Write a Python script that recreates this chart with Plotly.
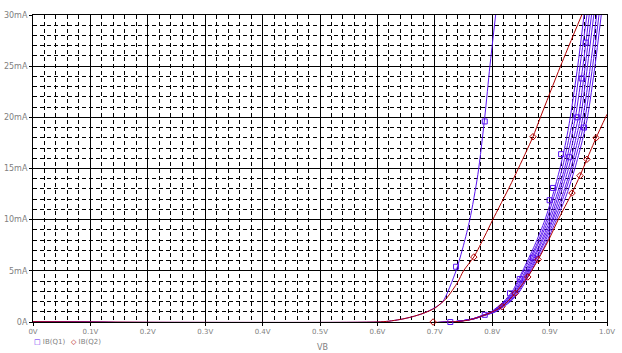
import plotly.graph_objects as go

# ---------------- data ----------------
x_tick_vals = [0.0, 0.1, 0.2, 0.3, 0.4, 0.5, 0.6, 0.7, 0.8, 0.9, 1.0]
x_tick_text = ["0V", "0.1V", "0.2V", "0.3V", "0.4V", "0.5V", "0.6V", "0.7V", "0.8V", "0.9V", "1.0V"]
y_tick_vals = [0, 5, 10, 15, 20, 25, 30]
y_tick_text = ["0A", "5mA", "10mA", "15mA", "20mA", "25mA", "30mA"]

# IB(Q1) steep curve
q1a_v = [0.0, 0.60, 0.62, 0.64, 0.66, 0.68, 0.70, 0.714, 0.737, 0.75, 0.761, 0.775, 0.787, 0.796, 0.806]
q1a_i = [0, 0, 0.08, 0.25, 0.5, 0.85, 1.4, 2.0, 5.0, 7.5, 10, 14.4, 20, 25, 30]

# IB(Q1) bundle of curves: voltage at each current level
bundle_i = [0, 0, 0.3, 0.7, 1, 2, 3, 5, 7.5, 10, 12.5, 15, 17.5, 20, 25, 30]
bundle_v = [
    [0.0, 0.727, 0.765, 0.785, 0.798, 0.820, 0.835, 0.853, 0.874, 0.892, 0.906, 0.918, 0.928, 0.936, 0.949, 0.960],
    [0.0, 0.727, 0.765, 0.786, 0.799, 0.822, 0.837, 0.855, 0.877, 0.895, 0.909, 0.922, 0.932, 0.941, 0.953, 0.965],
    [0.0, 0.727, 0.766, 0.786, 0.800, 0.823, 0.839, 0.858, 0.879, 0.898, 0.913, 0.926, 0.936, 0.945, 0.958, 0.969],
    [0.0, 0.727, 0.766, 0.787, 0.801, 0.825, 0.841, 0.860, 0.882, 0.901, 0.916, 0.929, 0.940, 0.950, 0.962, 0.973],
    [0.0, 0.727, 0.767, 0.788, 0.802, 0.827, 0.842, 0.862, 0.884, 0.904, 0.919, 0.933, 0.944, 0.954, 0.966, 0.977],
    [0.0, 0.727, 0.767, 0.788, 0.803, 0.828, 0.844, 0.864, 0.887, 0.906, 0.923, 0.937, 0.948, 0.958, 0.971, 0.982],
    [0.0, 0.727, 0.768, 0.789, 0.805, 0.830, 0.846, 0.866, 0.889, 0.909, 0.926, 0.940, 0.952, 0.962, 0.975, 0.986],
    [0.0, 0.727, 0.768, 0.790, 0.806, 0.832, 0.848, 0.868, 0.892, 0.912, 0.930, 0.944, 0.956, 0.966, 0.979, 0.990],
]

# IB(Q2) curves
q2a_v = [0.0, 0.60, 0.62, 0.64, 0.66, 0.68, 0.70, 0.72, 0.74, 0.75, 0.768, 0.787, 0.801, 0.831, 0.843, 0.871, 0.884, 0.919, 0.956]
q2a_i = [0, 0, 0.08, 0.25, 0.5, 0.85, 1.35, 2.3, 3.9, 5.0, 6.35, 8.4, 10.0, 13.3, 14.7, 18.1, 20, 25, 30]
q2b_v = [0.0, 0.727, 0.76, 0.79, 0.817, 0.84, 0.862, 0.88, 0.90, 0.915, 0.939, 0.953, 0.965, 0.981, 1.0]
q2b_i = [0, 0, 0.2, 0.75, 1.5, 2.8, 4.4, 6.1, 8.2, 10.0, 12.6, 14.3, 15.9, 18.0, 20.3]

# marker positions seen on the traces
q1_mark_v = [0.727, 0.787, 0.831, 0.848, 0.871, 0.737, 0.787, 0.963, 0.956, 0.948, 0.920, 0.934, 0.906, 0.900, 0.960]
q1_mark_i = [0, 0.7, 2.8, 4.2, 6.3, 5.4, 19.6, 27.3, 23.8, 20.0, 16.4, 16.1, 13.1, 11.9, 19.0]
q2_mark_v = [0.697, 0.768, 0.871, 0.817, 0.840, 0.862, 0.880, 0.939, 0.953, 0.965, 0.981]
q2_mark_i = [0, 6.35, 18.1, 1.5, 2.8, 4.4, 6.1, 12.6, 14.3, 15.9, 18.0]

# ---------------- figure ----------------
BLUE = "#5a14f0"
RED = "#b00000"
GRAY = "#808080"

fig = go.Figure()
line_style = dict(width=1, shape="spline", smoothing=0.7)

for vv in bundle_v:
    fig.add_trace(go.Scatter(x=vv, y=bundle_i, mode="lines",
                             line=dict(color=BLUE, **line_style), showlegend=False))
fig.add_trace(go.Scatter(x=q1a_v, y=q1a_i, mode="lines",
                         line=dict(color=BLUE, **line_style), showlegend=False))
fig.add_trace(go.Scatter(x=q1_mark_v, y=q1_mark_i, mode="markers",
                         marker=dict(symbol="square-open", size=5, color=BLUE, line=dict(width=1, color=BLUE)),
                         showlegend=False, cliponaxis=False))

fig.add_trace(go.Scatter(x=q2a_v, y=q2a_i, mode="lines",
                         line=dict(color=RED, **line_style), showlegend=False))
fig.add_trace(go.Scatter(x=q2b_v, y=q2b_i, mode="lines",
                         line=dict(color=RED, **line_style), showlegend=False))
fig.add_trace(go.Scatter(x=q2_mark_v, y=q2_mark_i, mode="markers",
                         marker=dict(symbol="diamond-open", size=5, color=RED, line=dict(width=1, color=RED)),
                         showlegend=False, cliponaxis=False))

minor_dash = "4px,3px"

fig.update_xaxes(range=[0, 1.0], tickvals=x_tick_vals, ticktext=x_tick_text,
                 showgrid=True, gridcolor="black", gridwidth=1,
                 minor=dict(dtick=0.02, showgrid=True, gridcolor="black", gridwidth=1, griddash=minor_dash, ticks=""),
                 ticks="outside", ticklen=3, tickcolor="black",
                 showline=True, linecolor="black", linewidth=1, mirror=True,
                 zeroline=False, tickfont=dict(family="DejaVu Sans", size=7, color=GRAY), fixedrange=True,
                 automargin=False, layer="below traces")
fig.update_yaxes(range=[0, 30], tickvals=y_tick_vals, ticktext=y_tick_text,
                 showgrid=True, gridcolor="black", gridwidth=1,
                 minor=dict(dtick=1, showgrid=True, gridcolor="black", gridwidth=1, griddash=minor_dash, ticks=""),
                 ticks="outside", ticklen=3, tickcolor="black",
                 showline=True, linecolor="black", linewidth=1, mirror=True,
                 zeroline=False, tickfont=dict(family="DejaVu Sans", size=8, color=GRAY), fixedrange=True,
                 automargin=False, layer="below traces")

fig.update_layout(
    width=622, height=353,
    margin=dict(l=33, r=15, t=15, b=31),
    paper_bgcolor="white", plot_bgcolor="white",
    showlegend=False,
    annotations=[
        dict(xref="paper", yref="paper", x=0.505, y=-0.083, text="VB", showarrow=False,
             font=dict(family="DejaVu Sans", size=8, color=GRAY), xanchor="center", yanchor="middle"),
        dict(xref="paper", yref="paper", x=-0.002, y=-0.064,
             text='<span style="color:%s">□</span> IB(Q1)' % BLUE, showarrow=False,
             font=dict(family="DejaVu Sans", size=7, color=GRAY), xanchor="left", yanchor="middle"),
        dict(xref="paper", yref="paper", x=0.063, y=-0.064,
             text='<span style="color:%s">◇</span> IB(Q2)' % RED, showarrow=False,
             font=dict(family="DejaVu Sans", size=7, color=GRAY), xanchor="left", yanchor="middle"),
    ],
)

fig.write_html("out.html",
               config={"displayModeBar": False, "staticPlot": True},
               post_script="document.body.style.margin='0px';document.body.style.overflow='hidden';")
